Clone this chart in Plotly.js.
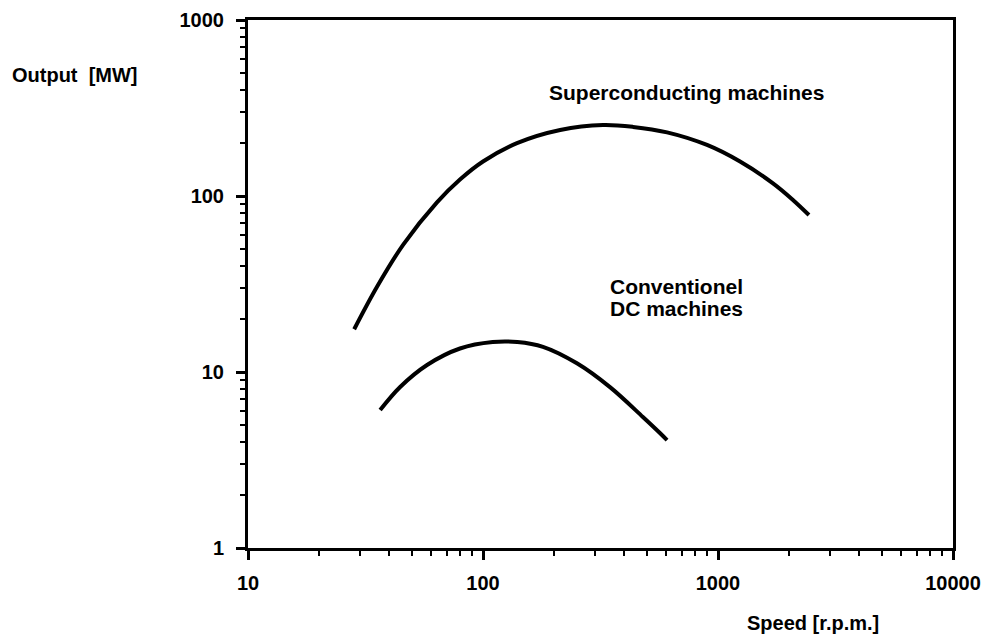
<!DOCTYPE html>
<html>
<head>
<meta charset="utf-8">
<script src="https://cdn.plot.ly/plotly-3.0.1.min.js"></script>
<style>html,body{margin:0;padding:0;background:#fff;}#chart{width:990px;height:638px;}</style>
</head>
<body>
<div id="chart"></div>
<script>
// Superconducting machines curve (speed rpm, output MW)
const superSpeed  = [28.3, 35.4, 45.7, 63.7, 79.8, 100, 139.5, 213, 324, 435, 607, 898, 1241, 1714, 2084, 2438];
const superOutput = [17.5, 30.5, 52.8, 92.0, 124, 157, 199.5, 237, 253, 247, 230, 195, 157, 118, 95, 78];
// Conventional DC machines curve
const convSpeed  = [36.5, 44.4, 57.8, 79.8, 110, 140, 180, 251, 347, 479, 566, 607];
const convOutput = [6.08, 8.22, 10.96, 13.6, 14.8, 14.8, 13.9, 11.2, 8.2, 5.55, 4.5, 4.1];

const xTickVals = [10, 100, 1000, 10000];
const xTickText = ["10", "100", "1000", "10000"];
const yTickVals = [1, 10, 100, 1000];
const yTickText = ["1", "10", "100", "1000"];

const FONT = "Liberation Sans, Arial, Helvetica, sans-serif";

const traces = [
  {x: superSpeed, y: superOutput, mode: "lines", line: {color: "#000", width: 4, shape: "spline", smoothing: 1}, hoverinfo: "skip"},
  {x: convSpeed, y: convOutput, mode: "lines", line: {color: "#000", width: 4, shape: "spline", smoothing: 1}, hoverinfo: "skip"}
];

const axisCommon = {
  type: "log",
  showgrid: false,
  zeroline: false,
  showline: true,
  linecolor: "#000",
  linewidth: 3,
  mirror: true,
  ticks: "outside",
  ticklen: 9,
  tickwidth: 3,
  tickcolor: "#000",
  tickmode: "array",
  tickfont: {family: FONT, size: 20, color: "#000", weight: "bold"},
  minor: {ticks: "outside", ticklen: 5, tickwidth: 2, tickcolor: "#000", dtick: "D1", showgrid: false}
};

const layout = {
  width: 990,
  height: 638,
  margin: {l: 248, r: 37, t: 20, b: 90},
  paper_bgcolor: "#fff",
  plot_bgcolor: "#fff",
  showlegend: false,
  xaxis: Object.assign({}, axisCommon, {range: [1, 4], tickvals: xTickVals, ticktext: xTickText, ticklabelstandoff: 6}),
  yaxis: Object.assign({}, axisCommon, {range: [0, 3], tickvals: yTickVals, ticktext: yTickText, ticklabelstandoff: 8}),
  annotations: [
    {xref: "paper", yref: "paper", x: -0.3376, y: 0.896, xanchor: "left", yanchor: "middle", showarrow: false,
     text: "Output  [MW]", font: {family: FONT, size: 20, color: "#000", weight: "bold"}},
    {xref: "paper", yref: "paper", x: 0.801, y: -0.142, xanchor: "center", yanchor: "middle", showarrow: false,
     text: "Speed [r.p.m.]", font: {family: FONT, size: 20, color: "#000", weight: "bold"}},
    {xref: "paper", yref: "paper", x: 0.424, y: 0.862, xanchor: "left", yanchor: "middle", showarrow: false,
     text: "Superconducting machines", font: {family: FONT, size: 21, color: "#000", weight: "bold"}},
    {xref: "paper", yref: "paper", x: 0.511, y: 0.496, xanchor: "left", yanchor: "middle", showarrow: false,
     text: "Conventionel", font: {family: FONT, size: 21, color: "#000", weight: "bold"}},
    {xref: "paper", yref: "paper", x: 0.511, y: 0.4545, xanchor: "left", yanchor: "middle", showarrow: false,
     text: "DC machines", font: {family: FONT, size: 21, color: "#000", weight: "bold"}}
  ]
};

Plotly.newPlot("chart", traces, layout, {staticPlot: true, displayModeBar: false});
</script>
</body>
</html>
